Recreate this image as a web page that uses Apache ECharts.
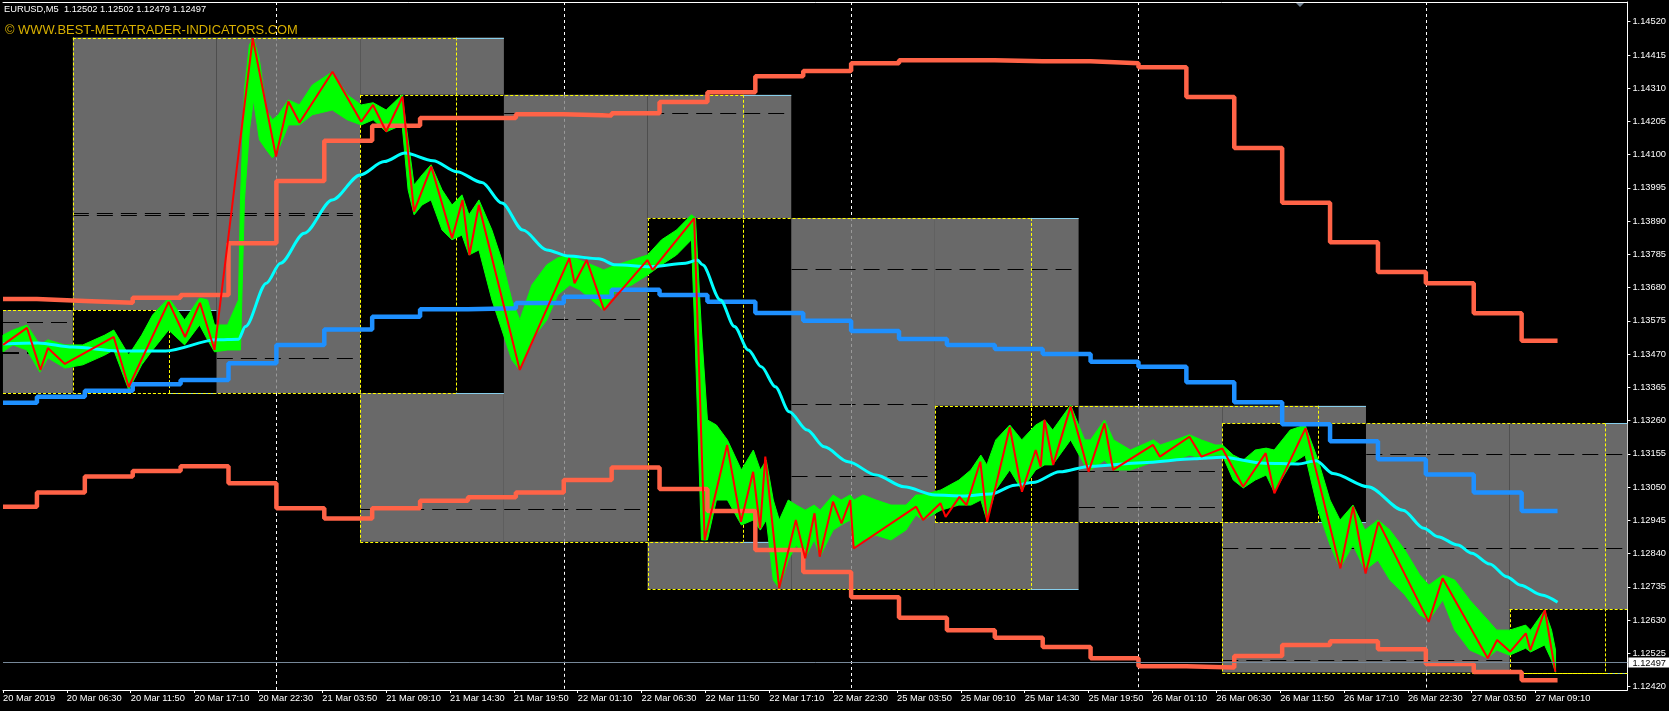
<!DOCTYPE html>
<html><head><meta charset="utf-8">
<script src="https://cdn.jsdelivr.net/npm/echarts@6/dist/echarts.min.js"></script>
<style>html,body{margin:0;padding:0;background:#000;overflow:hidden}#c{width:1669px;height:711px}</style>
</head><body><div id="c"></div>
<script>
// ---------- axes ----------
const yMin = 1.124089, yMax = 1.145822, xMax = 1628;
const yTicks = [1.14520,1.14415,1.14310,1.14205,1.14100,1.13995,1.13890,1.13785,1.13680,1.13575,1.13470,1.13365,1.13260,1.13155,1.13050,1.12945,1.12840,1.12735,1.12630,1.12525,1.12420];
const xTickBars = [0,64,128,192,256,320,384,448,512,576,640,704,768,832,896,960,1024,1088,1152,1216,1280,1344,1408,1472,1536];
const xTickLabels = ['20 Mar 2019','20 Mar 06:30','20 Mar 11:50','20 Mar 17:10','20 Mar 22:30','21 Mar 03:50','21 Mar 09:10','21 Mar 14:30','21 Mar 19:50','22 Mar 01:10','22 Mar 06:30','22 Mar 11:50','22 Mar 17:10','22 Mar 22:30','25 Mar 03:50','25 Mar 09:10','25 Mar 14:30','25 Mar 19:50','26 Mar 01:10','26 Mar 06:30','26 Mar 11:50','26 Mar 17:10','26 Mar 22:30','27 Mar 03:50','27 Mar 09:10'];
const sepBars = [274,562,850,1138,1426];
const lastPrice = 1.12497;

// ---------- session boxes ----------
const boxStart = [-218,70,358,646,934,1222,1510];
const boxSplit = [166,454,742,1030,1318,1606,1894];
const boxEnd   = [214,502,790,1078,1366,1654,1942];
const boxHigh  = [1.13609,1.14470,1.14289,1.13900,1.13307,1.13251,1.12664];
const boxLow   = [1.13347,1.13347,1.12877,1.12728,1.12939,1.12464,1.12464];

// dashed level lines inside boxes
const levelStart = [-218,-218,-218,70,70,70,358,358,358,646,646,646,934,934,1222,1222,1222];
const levelEnd   = [70,70,70,358,358,358,785,646,646,1073,934,934,1222,1222,1628,1628,1510];
const levelPrice = [1.13478,1.13473,1.13571,1.13915,1.13909,1.13457,1.14230,1.13580,1.12980,1.13738,1.13311,1.13086,1.13101,1.12986,1.13153,1.12856,1.12503];

// ---------- MTF step lines (4h steps) ----------
const stepBars = [0,34,82,130,178,226,274,322,370,418,466,514,562,610,658,706,754,802,850,898,946,994,1042,1090,1138,1186,1234,1282,1330,1378,1426,1474,1522];
const lastBar = 1558;
const upperBand = [1.13644,1.13638,1.13632,1.13648,1.13657,1.13820,1.14017,1.14144,1.14191,1.14216,1.14216,1.14228,1.14224,1.14231,1.14266,1.14297,1.14348,1.14364,1.14389,1.14398,1.14398,1.14395,1.14395,1.14389,1.14376,1.14282,1.14121,1.13948,1.13823,1.13729,1.13694,1.13599,1.13512];
const lowerBand = [1.12988,1.13033,1.13083,1.13101,1.13116,1.13062,1.12983,1.12951,1.12983,1.13007,1.13018,1.13033,1.13072,1.13112,1.13044,1.12974,1.12851,1.12782,1.12702,1.12637,1.12598,1.12574,1.12545,1.12509,1.12484,1.12480,1.12516,1.12551,1.12563,1.12538,1.12491,1.12466,1.12440];
const midBand   = [1.13316,1.13335,1.13354,1.13375,1.13388,1.13441,1.13499,1.13548,1.13588,1.13612,1.13615,1.13631,1.13651,1.13673,1.13657,1.13635,1.13600,1.13575,1.13543,1.13518,1.13499,1.13486,1.13470,1.13446,1.13430,1.13381,1.13318,1.13248,1.13195,1.13138,1.13090,1.13033,1.12974];

// ---------- moving average ----------
const maBar   = [0,35,70,115,163,214,236,243,264,278,302,330,358,382,403,431,455,480,500,521,545,566,597,614,649,684,696,701,719,733,747,760,774,788,806,823,847,875,903,934,962,990,1014,1032,1059,1090,1142,1194,1222,1264,1298,1316,1333,1368,1403,1424,1438,1458,1472,1490,1507,1521,1542,1558];
const maPrice = [1.13502,1.13505,1.13492,1.13480,1.13480,1.13515,1.13517,1.13557,1.13694,1.13757,1.13852,1.13957,1.14036,1.14078,1.14105,1.14081,1.14046,1.14012,1.13947,1.13862,1.13799,1.13780,1.13771,1.13752,1.13746,1.13757,1.13767,1.13752,1.13641,1.13557,1.13483,1.13430,1.13367,1.13288,1.13230,1.13177,1.13130,1.13088,1.13051,1.13025,1.13022,1.13028,1.13056,1.13064,1.13098,1.13116,1.13127,1.13139,1.13144,1.13125,1.13123,1.13133,1.13093,1.13051,1.12977,1.12920,1.12893,1.12867,1.12841,1.12807,1.12767,1.12740,1.12709,1.12686];

// ---------- zigzag ----------
const zzBar   = [0,24,37.5,45,62,111,126,166,182.5,197.4,212,250.3,273.6,286,297.2,330.2,359,370.9,384,400.4,411.9,429.3,450.1,460.5,467.5,476.9,517.9,567.6,572.8,585,602.4,645.8,651,692.7,703.2,725.7,739.6,751.8,758.8,764,777.9,794.6,804,813.3,818.5,831.8,840.4,849.1,852.6,915.2,922.1,939.5,944.7,958.6,965.6,979.5,986.4,1009,1021.2,1035,1040,1043.8,1052.5,1069.9,1088,1103.9,1112.6,1152.6,1159.5,1189.1,1201.2,1222.1,1242.9,1265.5,1274.2,1305.5,1340.3,1353.1,1365.6,1378.5,1428.9,1442.8,1488,1497.4,1510.6,1526.2,1530.7,1545.3,1555.8];
const zzPrice = [1.13499,1.13553,1.13420,1.13489,1.13439,1.13524,1.13366,1.13635,1.13524,1.13632,1.13483,1.14468,1.14094,1.14268,1.14201,1.14362,1.14204,1.14257,1.14173,1.14283,1.13920,1.14062,1.13836,1.13957,1.13783,1.13941,1.13420,1.13773,1.13694,1.13767,1.13609,1.13767,1.13736,1.13899,1.12883,1.13183,1.12940,1.13098,1.12920,1.13146,1.12730,1.12946,1.12825,1.12967,1.12830,1.13004,1.12935,1.13009,1.12856,1.12988,1.12946,1.12999,1.12956,1.13019,1.12993,1.13130,1.12940,1.13239,1.13035,1.13167,1.13114,1.13262,1.13120,1.13304,1.13098,1.13251,1.13104,1.13183,1.13146,1.13209,1.13146,1.13172,1.13051,1.13157,1.13030,1.13236,1.12793,1.12988,1.12777,1.12940,1.12624,1.12762,1.12509,1.12567,1.12530,1.12588,1.12535,1.12661,1.12466];

// ---------- price bars (high/low envelope) ----------
const pxBar  = [0,10,24,37,45,62,80,102,111,126,139,150,166,182,197,205,212,225,236,238,242,247,251,257,264,270,276,286,297,310,330,345,359,371,384,400,406,412,420,429,440,450,460,467,477,490,500,510,518,530,545,556,568,578,590,602,615,630,646,660,675,690,694,700,706,715,726,740,752,759,765,772,778,787,795,804,813,819,832,840,849,853,862,875,890,905,915,922,940,958,970,980,986,995,1009,1021,1035,1044,1052,1070,1084,1090,1104,1113,1130,1153,1160,1175,1189,1201,1215,1222,1233,1243,1255,1266,1274,1290,1305,1318,1330,1340,1353,1365,1378,1390,1405,1420,1429,1443,1455,1470,1488,1497,1510,1526,1531,1545,1552,1556];
const pxHigh = [1.13530,1.13546,1.13562,1.13499,1.13515,1.13499,1.13499,1.13530,1.13546,1.13467,1.13530,1.13594,1.13647,1.13578,1.13647,1.13641,1.13562,1.13562,1.13641,1.13957,1.14305,1.14447,1.14469,1.14399,1.14241,1.14210,1.14226,1.14273,1.14257,1.14320,1.14361,1.14289,1.14257,1.14264,1.14241,1.14289,1.14147,1.14004,1.14036,1.14068,1.13989,1.13941,1.13973,1.13910,1.13957,1.13862,1.13767,1.13641,1.13578,1.13688,1.13752,1.13774,1.13783,1.13767,1.13752,1.13736,1.13752,1.13767,1.13783,1.13831,1.13862,1.13910,1.13900,1.13546,1.13262,1.13246,1.13199,1.13104,1.13167,1.13104,1.13135,1.13009,1.12946,1.13009,1.12993,1.12977,1.12993,1.12977,1.13025,1.13009,1.13025,1.13009,1.13025,1.13009,1.12993,1.12993,1.13025,1.13025,1.13041,1.13072,1.13104,1.13151,1.13120,1.13199,1.13246,1.13199,1.13246,1.13262,1.13230,1.13309,1.13199,1.13199,1.13262,1.13199,1.13167,1.13199,1.13183,1.13199,1.13215,1.13199,1.13183,1.13183,1.13151,1.13135,1.13167,1.13173,1.13167,1.13230,1.13246,1.13135,1.13009,1.12946,1.12993,1.12914,1.12946,1.12914,1.12851,1.12772,1.12740,1.12772,1.12756,1.12693,1.12630,1.12598,1.12598,1.12614,1.12598,1.12661,1.12598,1.12535];
const pxLow  = [1.13477,1.13499,1.13483,1.13413,1.13458,1.13426,1.13436,1.13467,1.13483,1.13357,1.13436,1.13483,1.13546,1.13499,1.13562,1.13515,1.13477,1.13483,1.13483,1.13483,1.13957,1.14178,1.14273,1.14147,1.14115,1.14090,1.14115,1.14194,1.14194,1.14226,1.14241,1.14210,1.14194,1.14210,1.14172,1.14194,1.13989,1.13910,1.13941,1.13957,1.13862,1.13831,1.13846,1.13783,1.13799,1.13641,1.13546,1.13451,1.13420,1.13515,1.13578,1.13657,1.13688,1.13673,1.13641,1.13609,1.13673,1.13688,1.13720,1.13752,1.13783,1.13831,1.13483,1.12883,1.12883,1.13009,1.13009,1.12930,1.12946,1.12914,1.12946,1.12756,1.12731,1.12819,1.12867,1.12826,1.12883,1.12832,1.12914,1.12930,1.12946,1.12857,1.12883,1.12898,1.12883,1.12914,1.12962,1.12946,1.12977,1.12993,1.12993,1.13009,1.12946,1.13041,1.13104,1.13041,1.13104,1.13120,1.13120,1.13199,1.13120,1.13104,1.13135,1.13104,1.13104,1.13129,1.13129,1.13135,1.13151,1.13142,1.13151,1.13151,1.13072,1.13047,1.13072,1.13088,1.13034,1.13120,1.13151,1.12977,1.12867,1.12794,1.12867,1.12788,1.12819,1.12756,1.12709,1.12646,1.12630,1.12693,1.12598,1.12535,1.12510,1.12535,1.12519,1.12541,1.12529,1.12551,1.12503,1.12465];

// ---------- derived geometry (in data units) ----------
const boxes = boxStart.map((s,i)=>({s, m:boxSplit[i], e:boxEnd[i], hi:boxHigh[i], lo:boxLow[i]}));
const clampX = v => Math.max(0, Math.min(xMax, v));
// overlapping filled rectangles combine like XOR (MetaTrader style)
const xe = [0, xMax];
boxes.forEach(b=>[b.s,b.e].forEach(v=>{ if(v>0 && v<xMax) xe.push(v); }));
const xs = Array.from(new Set(xe)).sort((a,b)=>a-b);
const cells = [];
for (let i=0;i<xs.length-1;i++){
  const a=xs[i], c=xs[i+1];
  const cov = boxes.filter(b=>b.s<=a && b.e>=c);
  const ys = Array.from(new Set(cov.flatMap(b=>[b.hi,b.lo]))).sort((u,v)=>u-v);
  let cur=null;
  for (let j=0;j<ys.length-1;j++){
    const lo=ys[j], hi=ys[j+1];
    const n = cov.filter(b=>b.lo<=lo && b.hi>=hi).length;
    if (n%2===1){ if(cur && cur[2]===lo){cur[2]=hi;} else {cur=[a,c,hi,lo]; cells.push(cur);} }
    else cur=null;
  }
}

const sepSegs = [];
sepBars.forEach(sx=>{
  const cov = boxes.filter(b=>b.s<=sx && b.e>sx);
  const ys = Array.from(new Set([yMin,yMax,...cov.flatMap(b=>[b.hi,b.lo])])).sort((u,v)=>u-v);
  for (let j=0;j<ys.length-1;j++){
    const lo=ys[j], hi=ys[j+1];
    const n = cov.filter(b=>b.lo<=lo && b.hi>=hi).length;
    sepSegs.push([sx, hi, sx, lo, n%2]);
  }
});

const borderSegs = []; // x1,p1,x2,p2,kind (0 yellow dotted, 1 light blue)
boxes.forEach(b=>{
  const a=clampX(b.s), m=clampX(b.m), e=clampX(b.e);
  if (m>a){ borderSegs.push([a,b.hi,m,b.hi,0]); borderSegs.push([a,b.lo,m,b.lo,0]); }
  if (b.s>=0 && b.s<=xMax) borderSegs.push([b.s,b.hi,b.s,b.lo,0]);
  if (b.m>=0 && b.m<=xMax) borderSegs.push([b.m,b.hi,b.m,b.lo,0]);
  if (e>m){ borderSegs.push([m,b.hi,e,b.hi,1]); borderSegs.push([m,b.lo,e,b.lo,1]); }
});
const levelSegs = levelPrice.map((p,i)=>[clampX(levelStart[i]),p,clampX(levelEnd[i]),p,0]);

const stepData = vals => stepBars.map((b,i)=>[b,vals[i]]).concat([[lastBar, vals[vals.length-1]]]);

// ---------- chart ----------
const chart = echarts.init(document.getElementById('c'), null, {renderer:'canvas'});
const FONT = 'Liberation Sans';

function segRender(colorFn, widthFn, dashFn){
  return function(params, api){
    const p1 = api.coord([api.value(0), api.value(1)]);
    const p2 = api.coord([api.value(2), api.value(3)]);
    const k = api.value(4);
    let x1=p1[0], x2=p2[0], y1=p1[1], y2=p2[1];
    if (x1===x2){ x1=x2=Math.round(x1)+0.5; }
    if (y1===y2){ y1=y2=Math.round(y1)+0.5; }
    return {type:'line', shape:{x1,y1,x2,y2}, style:{stroke:colorFn(k), lineWidth:widthFn(k), lineDash:dashFn(k), fill:null}};
  };
}

const option = {
  backgroundColor:'#000',
  animation:false,
  grid:{left:0, right:41, top:2, bottom:21, containLabel:false},
  xAxis:[{
    type:'value', min:0, max:xMax, position:'bottom',
    axisLine:{show:true, onZero:false, lineStyle:{color:'#fff', width:1}},
    axisTick:{show:true, length:3, customValues:xTickBars, lineStyle:{color:'#fff'}},
    axisLabel:{show:true, customValues:xTickBars, formatter:v=>xTickLabels[xTickBars.indexOf(v)], align:'left', color:'#fff', fontSize:9.3, fontFamily:FONT, margin:4},
    splitLine:{show:false}
  },{
    type:'value', min:0, max:xMax, position:'top',
    axisLine:{show:true, onZero:false, lineStyle:{color:'#fff', width:1}},
    axisTick:{show:false}, axisLabel:{show:false}, splitLine:{show:false}
  }],
  yAxis:{
    type:'value', min:yMin, max:yMax, position:'right', scale:true,
    axisLine:{show:true, onZero:false, lineStyle:{color:'#fff', width:1}},
    axisTick:{show:true, length:3, customValues:yTicks, lineStyle:{color:'#fff'}},
    axisLabel:{show:true, customValues:yTicks, formatter:v=>v.toFixed(5), color:'#fff', fontSize:9.3, fontFamily:FONT, margin:5, padding:[4,0,0,0]},
    splitLine:{show:false}
  },
  graphic:[
    {type:'text', left:4, top:5, z:100, style:{text:'EURUSD,M5  1.12502 1.12502 1.12479 1.12497', fill:'#fff', fontSize:9.3, fontFamily:FONT}},
    {type:'text', left:5, top:24, z:100, style:{text:'\u00A9 WWW.BEST-METATRADER-INDICATORS.COM', fill:'#D8B000', fontSize:12.9, fontFamily:FONT}},
    {type:'polygon', z:100, shape:{points:[[1296,3],[1304,3],[1300,7]]}, style:{fill:'#708090'}}
  ],
  series:[
    {type:'custom', name:'boxes', z:1, silent:true, data:cells,
      renderItem:(params, api)=>{
        const p1=api.coord([api.value(0), api.value(2)]), p2=api.coord([api.value(1), api.value(3)]);
        return {type:'rect', shape:{x:p1[0], y:p1[1], width:p2[0]-p1[0], height:p2[1]-p1[1]}, style:{fill:'#696969'}};
      }},
    {type:'custom', name:'levels', z:2, silent:true, data:levelSegs,
      renderItem:segRender(()=> '#000', ()=>1, ()=>[16,8])},
    {type:'custom', name:'separators', z:3, silent:true, data:sepSegs,
      renderItem:segRender(k=> k ? '#9a9a9a' : '#ffffff', ()=>1, ()=>[3,3])},
    {type:'custom', name:'borders', z:3, silent:true, data:borderSegs,
      renderItem:segRender(k=> k ? '#87CEEB' : '#FFFF00', ()=>1, k=> k ? null : [3,2])},
    {type:'custom', name:'price', z:4, silent:true, data:[[0]],
      renderItem:(params, api)=>{
        const pts=[];
        for (let i=0;i<pxBar.length;i++) pts.push(api.coord([pxBar[i], pxHigh[i]]));
        for (let i=pxBar.length-1;i>=0;i--) pts.push(api.coord([pxBar[i], pxLow[i]]));
        return {type:'polygon', shape:{points:pts}, style:{fill:'#00FF00', stroke:'#00FF00', lineWidth:1}};
      }},
    {type:'line', name:'upper', z:5, data:stepData(upperBand), step:'end', symbol:'none', silent:true, lineStyle:{color:'#FF6347', width:4.5}},
    {type:'line', name:'lower', z:5, data:stepData(lowerBand), step:'end', symbol:'none', silent:true, lineStyle:{color:'#FF6347', width:4.5}},
    {type:'line', name:'mid', z:5, data:stepData(midBand), step:'end', symbol:'none', silent:true, lineStyle:{color:'#1E90FF', width:4.5}},
    {type:'line', name:'ma', z:6, data:maBar.map((b,i)=>[b,maPrice[i]]), smooth:0.3, smoothMonotone:'x', symbol:'none', silent:true, lineStyle:{color:'#00FFFF', width:3}},
    {type:'line', name:'zigzag', z:7, data:zzBar.map((b,i)=>[b,zzPrice[i]]), symbol:'none', silent:true, lineStyle:{color:'#FF0000', width:2}},
    {type:'custom', name:'lastPrice', z:8, silent:true, data:[[lastPrice]],
      renderItem:(params, api)=>{
        const p = api.value(0);
        const a = api.coord([0,p]), b = api.coord([xMax,p]);
        const y = Math.round(a[1])+0.5;
        return {type:'group', children:[
          {type:'line', shape:{x1:a[0], y1:y, x2:b[0], y2:y}, style:{stroke:'#778899', lineWidth:1}},
          {type:'rect', shape:{x:b[0]+1, y:y-5, width:41, height:10}, style:{fill:'#fff'}},
          {type:'text', x:b[0]+5, y:y+0.5, style:{text:p.toFixed(5), fill:'#000', fontSize:9.3, fontFamily:FONT, verticalAlign:'middle', align:'left'}}
        ]};
      }}
  ]
};
chart.setOption(option);
</script></body></html>
